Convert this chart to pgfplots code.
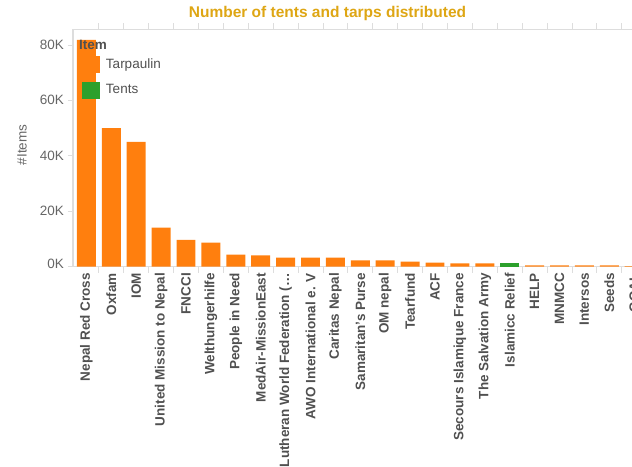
\documentclass[border=0pt]{standalone}
\usepackage{pgfplots}
\pgfplotsset{compat=1.18}
\usepackage{fontspec}
\setmainfont{Liberation Sans}
\definecolor{tabOrange}{HTML}{FF7F0E}
\definecolor{tabGreen}{HTML}{2CA02C}
\definecolor{titleGold}{RGB}{222,166,20}
\definecolor{axisGrey}{HTML}{DDDDDD}
\definecolor{tickGrey}{HTML}{666666}
\definecolor{labelGrey}{HTML}{505050}
\newcommand{\fs}{\fontsize{13.5}{15}\selectfont}
\begin{document}
\begin{tikzpicture}
\begin{axis}[
  at={(73pt,199.5pt)}, anchor=south west,
  x=24.9pt, y=2.77pt,
  xmin=-0.538, xmax=22.6, ymin=0, ymax=85.7,
  axis line style={draw=axisGrey, line width=1.2pt},
  tick align=outside,
  major tick length=5pt, minor tick length=6pt,
  major x tick style={draw=none},
  minor x tick style={draw=axisGrey, line width=0.8pt},
  major y tick style={draw=axisGrey, line width=0.8pt},
  ytick={0,20,40,60,80},
  yticklabels={\raisebox{6pt}{0K},20K,40K,60K,80K},
  yticklabel style={font=\fs, text=tickGrey, inner sep=0pt},
  yticklabel shift=4pt,
  xtick={0,...,22},
  minor xtick={0.5,1.5,...,21.5},
  xticklabels={Nepal Red Cross,Oxfam,IOM,United Mission to Nepal,FNCCI,Welthungerhilfe,People in Need,MedAir-MissionEast,Lutheran World Federation (…,AWO International e. V,Caritas Nepal,Samaritan's Purse,OM nepal,Tearfund,ACF,Secours Islamique France,The Salvation Army,Islamicc Relief,HELP,MNMCC,Intersos,Seeds,GOAL},
  xticklabel style={rotate=90, anchor=east, font=\fs\bfseries, text=labelGrey, inner sep=0pt},
  xticklabel shift=1.5pt,
  ylabel={\#Items},
  ylabel style={at={(axis description cs:-0.0885,0.512)}, anchor=center, font=\fs, text=tickGrey},
  legend cell align=left,
  legend style={at={(axis description cs:0.0156,0.8863)}, anchor=north west, draw=none, fill=none,
    inner sep=0pt, outer sep=0pt, row sep=8.5pt, column sep=6pt, font=\fs, text=labelGrey,
    nodes={inner sep=0pt}},
]
\addplot[ybar, bar width=0.76, bar shift=0pt, fill=tabOrange, draw=none,
  legend image code/.code={\fill[tabOrange] (0pt,-8.5pt) rectangle (18pt,8.5pt);}] coordinates {
(0,81.8) (1,50.0) (2,45.0) (3,14.0) (4,9.6) (5,8.6) (6,4.3) (7,4.0) (8,3.2) (9,3.2)
(10,3.2) (11,2.2) (12,2.2) (13,1.8) (14,1.4) (15,1.1) (16,1.1) (18,0.4) (19,0.4)
(20,0.4) (21,0.4) (22,0.1)};
\addlegendentry{Tarpaulin}
\addplot[ybar, bar width=0.76, bar shift=0pt, fill=tabGreen, draw=none,
  legend image code/.code={\fill[tabGreen] (0pt,-8.5pt) rectangle (18pt,8.5pt);}] coordinates {(17,1.1)};
\addlegendentry{Tents}
\end{axis}
\node[anchor=base, inner sep=0pt, font=\fontsize{15.5}{18}\selectfont\bfseries, text=titleGold] at (327.5pt,448pt) {Number of tents and tarps distributed};
\node[anchor=west, inner sep=0pt, font=\fs\bfseries, text=labelGrey] at (79pt,421pt) {Item};
\pgfresetboundingbox
\path[use as bounding box] (0,0) rectangle (632pt,466pt);
\end{tikzpicture}
\end{document}
